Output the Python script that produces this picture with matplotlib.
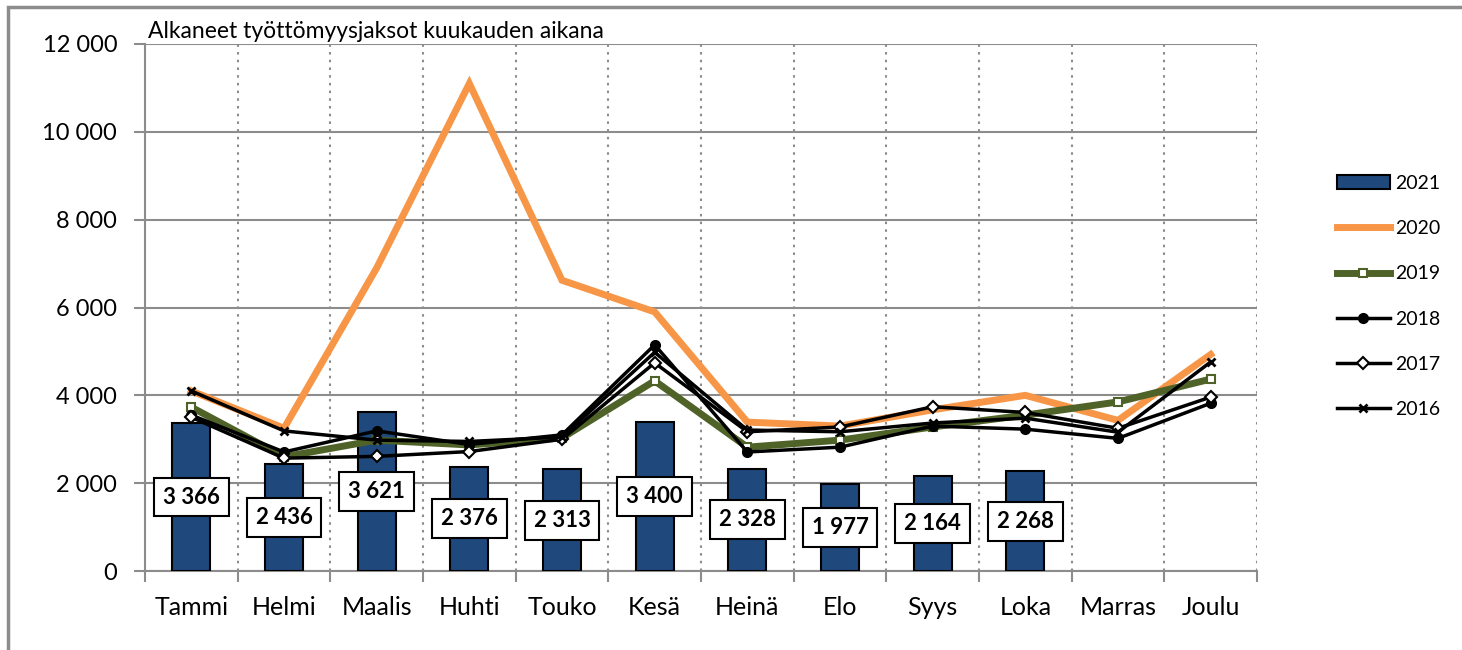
import numpy as np
import matplotlib
matplotlib.use("Agg")
import matplotlib.pyplot as plt
from matplotlib.patches import Rectangle

plt.rcParams['font.family'] = ['Lato', 'DejaVu Sans']

months = ["Tammi", "Helmi", "Maalis", "Huhti", "Touko", "Kesä",
          "Heinä", "Elo", "Syys", "Loka", "Marras", "Joulu"]

v2021 = [3366, 2436, 3621, 2376, 2313, 3400, 2328, 1977, 2164, 2268]
v2020 = [4100, 3250, 6900, 11100, 6620, 5900, 3390, 3300, 3670, 4000, 3430, 4930]
v2019 = [3730, 2600, 2980, 2870, 3030, 4330, 2820, 2980, 3280, 3550, 3850, 4370]
v2018 = [3550, 2710, 3190, 2880, 3100, 5150, 2710, 2820, 3300, 3230, 3020, 3820]
v2017 = [3500, 2570, 2610, 2720, 3000, 4740, 3170, 3280, 3740, 3610, 3250, 3960]
v2016 = [4100, 3190, 2980, 2950, 3050, 4980, 3210, 3170, 3370, 3480, 3160, 4760]

title = "Alkaneet työttömyysjaksot kuukauden aikana"


def fmt(v):
    return f"{int(v):,}".replace(",", " ")


fig = plt.figure(figsize=(14.62, 6.5), dpi=100)
ax = fig.add_axes([145 / 1462, 1 - 571 / 650, (1257 - 145) / 1462, (571 - 44) / 650])

# outer chart frame
fig.patches.append(Rectangle((8 / 1462, -0.01), 1.0, 1 - 7 / 650 + 0.01,
                             transform=fig.transFigure, fill=False,
                             edgecolor="#8c8c8c", linewidth=2.5))

x = np.arange(len(months))
xb = np.arange(len(v2021))

bars = ax.bar(xb, v2021, width=0.41, color="#1F497D", edgecolor="black",
              linewidth=1.5, zorder=3, label="2021")

l20, = ax.plot(x, v2020, color="#F79646", linewidth=5, zorder=4, label="2020",
               solid_joinstyle="miter")
l19, = ax.plot(x, v2019, color="#4F6228", linewidth=5, zorder=5, label="2019",
               marker="s", markersize=6, markerfacecolor="white",
               markeredgecolor="#4F6228", markeredgewidth=1.5)
l18, = ax.plot(x, v2018, color="black", linewidth=2.5, zorder=6, label="2018",
               marker="o", markersize=7)
l17, = ax.plot(x, v2017, color="black", linewidth=2.5, zorder=7, label="2017",
               marker="D", markersize=6, markerfacecolor="white",
               markeredgecolor="black", markeredgewidth=1.5)
l16, = ax.plot(x, v2016, color="black", linewidth=2.5, zorder=8, label="2016",
               marker="x", markersize=6, markeredgewidth=2)

for xi, v in zip(xb, v2021):
    ax.text(xi, v / 2, fmt(v), ha="center", va="center", fontsize=16,
            fontweight="bold", zorder=10,
            bbox=dict(boxstyle="square,pad=0.4", facecolor="white",
                      edgecolor="black", linewidth=1.5))

ax.set_xlim(-0.5, 11.5)
ax.set_ylim(0, 12000)
yt = np.arange(0, 12001, 2000)
ax.set_yticks(yt)
ax.set_yticklabels([fmt(v) for v in yt], fontsize=17)
ax.set_xticks(x)
ax.set_xticklabels(months, fontsize=18)
ax.set_xticks(np.arange(-0.5, 12, 1), minor=True)

ax.tick_params(axis="x", which="major", length=0, pad=18)
ax.tick_params(axis="x", which="minor", length=8, width=1.5,
               color="#8c8c8c", direction="out")
ax.tick_params(axis="y", length=8, width=1.5, color="#8c8c8c", pad=12)

ax.grid(axis="y", color="#8c8c8c", linewidth=1.5, zorder=0)
ax.grid(axis="x", which="minor", color="#8c8c8c", linestyle=(0, (1.2, 2.5)),
        linewidth=1.5, zorder=0)
ax.set_axisbelow(True)

for s in ["top", "right"]:
    ax.spines[s].set_visible(False)
for s in ["left", "bottom"]:
    ax.spines[s].set_color("#8c8c8c")
    ax.spines[s].set_linewidth(1.5)

ax.text(0.003, 1.004, title, transform=ax.transAxes, ha="left", va="bottom",
        fontsize=16.5)

fig.legend(handles=[bars, l20, l19, l18, l17, l16],
           loc="upper left", bbox_to_anchor=(1337 / 1462, 1 - 175 / 650),
           frameon=False, fontsize=14, handlelength=2.7, borderpad=0,
           borderaxespad=0, labelspacing=1.45, handletextpad=0.3)

fig.savefig("out.png", dpi=100)
